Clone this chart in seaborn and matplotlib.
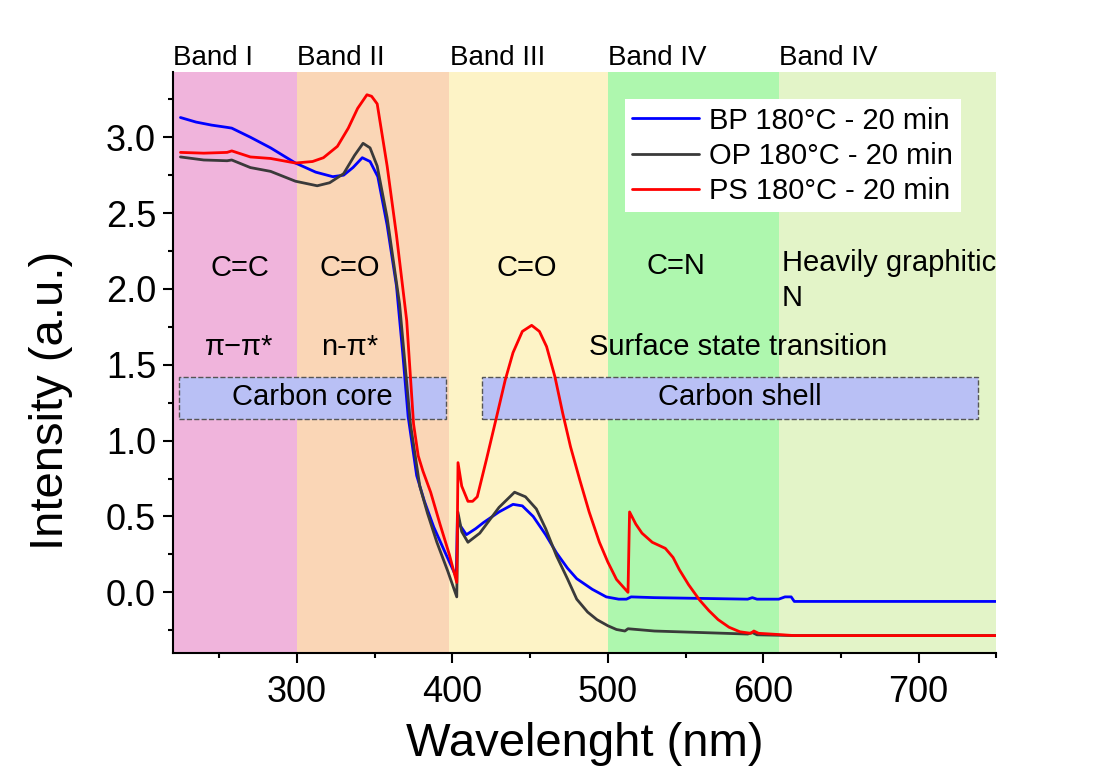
import pandas as pd
import seaborn as sns
import matplotlib.pyplot as plt
from matplotlib.patches import Rectangle
from matplotlib.ticker import MultipleLocator
import matplotlib.transforms as mtransforms

# UV-vis absorbance
bp_wl = [225, 235, 245, 255, 258, 270, 283, 299, 312, 323, 330, 336, 342, 347,
         352, 358, 364, 368, 371.5, 377, 382, 388, 395, 402.5, 403.2, 405, 409,
         415, 420, 430, 439, 445, 452, 460, 467, 474, 480, 490, 499, 507, 512,
         515, 530, 560, 590, 593, 596, 610, 614, 618, 620, 650, 700, 750]
bp_int = [3.13, 3.10, 3.08, 3.065, 3.06, 3.0, 2.93, 2.83, 2.77, 2.74, 2.75, 2.80,
          2.865, 2.84, 2.74, 2.42, 2.02, 1.58, 1.16, 0.77, 0.60, 0.43, 0.27, 0.10,
          0.50, 0.44, 0.38, 0.42, 0.46, 0.53, 0.58, 0.57, 0.50, 0.38, 0.26, 0.16,
          0.09, 0.02, -0.03, -0.045, -0.045, -0.03, -0.035, -0.04, -0.045, -0.035,
          -0.045, -0.045, -0.03, -0.03, -0.06, -0.06, -0.06, -0.06]

op_wl = [225, 240, 255, 258, 270, 283, 299, 313, 321, 330, 337, 342.5, 347, 351.6,
         358, 366, 373, 379, 384, 390, 397, 402.8, 403.5, 406, 410, 417.6, 430,
         440, 447, 454, 460, 467, 474, 480, 487, 493, 500, 505.6, 511, 513, 530,
         560, 590, 593, 596, 620, 650, 700, 750]
op_int = [2.87, 2.85, 2.845, 2.85, 2.80, 2.775, 2.71, 2.68, 2.70, 2.76, 2.88, 2.96,
          2.93, 2.81, 2.47, 1.90, 1.11, 0.70, 0.52, 0.33, 0.14, -0.03, 0.53, 0.40,
          0.33, 0.39, 0.56, 0.66, 0.63, 0.55, 0.42, 0.24, 0.09, -0.045, -0.13,
          -0.18, -0.22, -0.245, -0.255, -0.24, -0.255, -0.265, -0.275, -0.265,
          -0.28, -0.285, -0.285, -0.285, -0.285]

ps_wl = [225, 240, 255, 258, 270, 283, 299, 310, 317, 326, 333, 339, 345, 348,
         351.6, 358, 364, 370.6, 375, 378, 381, 386, 392, 398, 402.8, 403.6, 406,
         410, 413, 416, 422, 428.5, 434, 439, 445, 451, 456, 460.6, 466, 471, 476,
         482, 488, 494.6, 500, 505.6, 513, 514, 518, 522, 528.6, 537, 542, 546,
         552, 559, 565, 571, 578, 585, 592, 594, 597, 605, 620, 650, 700, 750]
ps_int = [2.90, 2.895, 2.90, 2.91, 2.87, 2.86, 2.83, 2.84, 2.865, 2.94, 3.06, 3.19,
          3.28, 3.27, 3.22, 2.81, 2.355, 1.79, 1.11, 0.90, 0.80, 0.66, 0.45, 0.25,
          0.065, 0.855, 0.70, 0.60, 0.60, 0.63, 0.88, 1.16, 1.40, 1.58, 1.72, 1.76,
          1.72, 1.62, 1.42, 1.18, 0.96, 0.74, 0.53, 0.33, 0.20, 0.085, 0.0, 0.53,
          0.45, 0.39, 0.33, 0.29, 0.23, 0.15, 0.05, -0.05, -0.12, -0.18, -0.23,
          -0.26, -0.27, -0.255, -0.27, -0.275, -0.285, -0.285, -0.285, -0.285]

samples = ["BP 180°C - 20 min", "OP 180°C - 20 min", "PS 180°C - 20 min"]
line_colors = ["#0000ff", "#3a3a3a", "#ff0000"]

band_edges = [220, 300, 398, 500, 610, 750]
band_names = ["Band I", "Band II", "Band III", "Band IV", "Band IV"]
band_colors = ["#f0b4dc", "#fad6b6", "#fdf3c6", "#aef7ae", "#e3f4c8"]

df = pd.concat([
    pd.DataFrame({"wl": bp_wl, "intensity": bp_int, "sample": samples[0]}),
    pd.DataFrame({"wl": op_wl, "intensity": op_int, "sample": samples[1]}),
    pd.DataFrame({"wl": ps_wl, "intensity": ps_int, "sample": samples[2]}),
], ignore_index=True)

sns.set_style("ticks")
plt.rcParams["font.family"] = ["Liberation Sans", "DejaVu Sans"]
plt.rcParams.update({"text.color": "black", "axes.labelcolor": "black",
                     "xtick.color": "black", "ytick.color": "black",
                     "axes.edgecolor": "black"})

fig = plt.figure(figsize=(11.07, 7.66), dpi=100)
ax = fig.add_axes([0.156, 0.1475, 0.744, 0.7585])

# colored bands
for i in range(len(band_names)):
    ax.axvspan(band_edges[i], band_edges[i + 1], color=band_colors[i], lw=0, zorder=0)

# core / shell boxes
ax.add_patch(Rectangle((224, 1.145), 172, 0.275, facecolor="#b9c0f5",
                       edgecolor="#555555", ls="--", lw=1.0, zorder=1))
ax.add_patch(Rectangle((419, 1.145), 319, 0.275, facecolor="#b9c0f5",
                       edgecolor="#555555", ls="--", lw=1.0, zorder=1))

sns.lineplot(data=df, x="wl", y="intensity", hue="sample", palette=line_colors,
             sort=False, estimator=None, lw=2, ax=ax, zorder=3)

ax.set_xlim(220, 750)
ax.set_ylim(-0.4, 3.43)
ax.xaxis.set_major_locator(MultipleLocator(100))
ax.xaxis.set_minor_locator(MultipleLocator(50))
ax.yaxis.set_major_locator(MultipleLocator(0.5))
ax.yaxis.set_minor_locator(MultipleLocator(0.25))
ax.tick_params(which="major", direction="out", length=7, width=1.5, labelsize=26)
ax.tick_params(axis="x", which="major", pad=9)
ax.tick_params(axis="y", which="major", pad=5)
ax.tick_params(which="minor", direction="out", length=3.5, width=1.5)
for s in ["top", "right"]:
    ax.spines[s].set_visible(False)
for s in ["left", "bottom"]:
    ax.spines[s].set_linewidth(1.5)
ax.set_xlabel("Wavelenght (nm)", fontsize=34)
ax.set_ylabel("Intensity (a.u.)", fontsize=34)
ax.xaxis.set_label_coords(0.5, -0.118)
ax.yaxis.set_label_coords(-0.121, 0.435)

# band titles above the axes
trans = mtransforms.blended_transform_factory(ax.transData, ax.transAxes)
for i, name in enumerate(band_names):
    ax.text(band_edges[i] + 0.3, 1.024, name, transform=trans, fontsize=20,
            ha="left", va="center")

# annotations
fs = 21
ax.text(263, 2.14, "C=C", fontsize=fs, ha="center", va="center")
ax.text(334, 2.14, "C=O", fontsize=fs, ha="center", va="center")
ax.text(448, 2.14, "C=O", fontsize=fs, ha="center", va="center")
ax.text(544, 2.15, "C=N", fontsize=fs, ha="center", va="center")
ax.text(612, 2.17, "Heavily graphitic", fontsize=fs, ha="left", va="center")
ax.text(612, 1.94, "N", fontsize=fs, ha="left", va="center")
ax.text(263, 1.62, "π−π*", fontsize=fs, ha="center", va="center")
ax.text(334, 1.62, "n-π*", fontsize=fs, ha="center", va="center")
ax.text(584, 1.62, "Surface state transition", fontsize=fs, ha="center", va="center")
ax.text(310, 1.285, "Carbon core", fontsize=21, ha="center", va="center", zorder=2)
ax.text(585, 1.285, "Carbon shell", fontsize=21, ha="center", va="center", zorder=2)

leg = ax.legend(loc="upper left", bbox_to_anchor=(0.549, 0.953), fontsize=21,
                frameon=True, fancybox=False, borderaxespad=0, borderpad=0.25,
                handlelength=2.3, handletextpad=0.35, labelspacing=0.25, title=None)
leg.get_frame().set_facecolor("white")
leg.get_frame().set_edgecolor("none")
leg.get_frame().set_alpha(1)
for line in leg.get_lines():
    line.set_linewidth(2)

fig.savefig("out.png", dpi=100)
